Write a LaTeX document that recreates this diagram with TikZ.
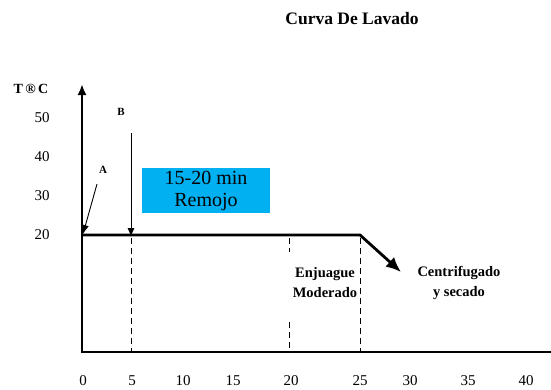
\documentclass[tikz,border=0pt]{standalone}
\usepackage{fontspec}
\setmainfont{Liberation Serif}
\usetikzlibrary{positioning,arrows.meta}
\definecolor{boxblue}{RGB}{0,176,240}
\tikzstyle{every node}=[inner sep=0pt]
\tikzstyle{axis} = [line width=2.2pt,{Latex[length=11pt,width=9pt]}-]
\tikzstyle{curve} = [line width=2.8pt,-{Latex[length=15pt,width=13pt]}]
\tikzstyle{guide} = [line width=1pt,dash pattern=on 6pt off 4pt]
\tikzstyle{pointer} = [line width=0.9pt,-{Latex[length=9pt,width=7pt]}]
\tikzstyle{tick} = [font=\fontsize{15}{17}\selectfont]
\tikzstyle{lbl} = [font=\bfseries\fontsize{14.5}{20}\selectfont,align=center]

\begin{document}
\begin{tikzpicture}[x=1pt,y=-1pt]
\useasboundingbox (0,0) rectangle (551,389);

% title
\node[font=\bfseries\fontsize{17.5}{20}\selectfont] (title) at (352,19) {Curva De Lavado};

% axes
\coordinate (ytop) at (82,84);
\coordinate (xend) at (551,352);
\draw[axis] (ytop) |- (xend);
\node[font=\bfseries\fontsize{14}{16}\selectfont] (tc) at (31,89) {T\,®\,C};
\foreach \v/\y in {50/118,40/157,30/196,20/235}
  \node[tick] (y\v) at (42,\y) {\v};
\foreach \v/\x in {0/83,5/132,10/183,15/233,20/291,25/360,30/410,35/468,40/526}
  \node[tick] (x\v) at (\x,381) {\v};

% guides
\draw[guide] (131,238) -- (131,352);
\draw[guide] (289,238) -- (289,252);
\draw[guide] (289,322) -- (289,352);
\draw[guide] (360,238) -- (360,352);

% wash curve
\coordinate (c0) at (83,235);
\coordinate (c1) at (360,235);
\coordinate (c2) at (401,272);
\draw[curve] (c0) -- (c1) -- (c2);

% markers
\node[font=\bfseries\fontsize{11}{13}\selectfont] (B) at (121,112) {B};
\coordinate (bstart) at (131,133);
\coordinate (bend) at (131,237);
\draw[pointer] (bstart) -- (bend);
\node[font=\bfseries\fontsize{11}{13}\selectfont] (A) at (103,170) {A};
\coordinate (astart) at (97,184);
\coordinate (aend) at (83,234);
\draw[pointer] (astart) -- (aend);

% soak box
\node[fill=boxblue,minimum width=128pt,minimum height=45pt,align=center,font=\fontsize{20}{22}\selectfont] (soak) at (206,190.5) {15-20 min\\Remojo};

% phases
\node[lbl] (rinse) at (325,283) {Enjuague\\Moderado};
\node[lbl] (spin) at (459,283) {Centrifugado\\y secado};
\end{tikzpicture}
\end{document}
